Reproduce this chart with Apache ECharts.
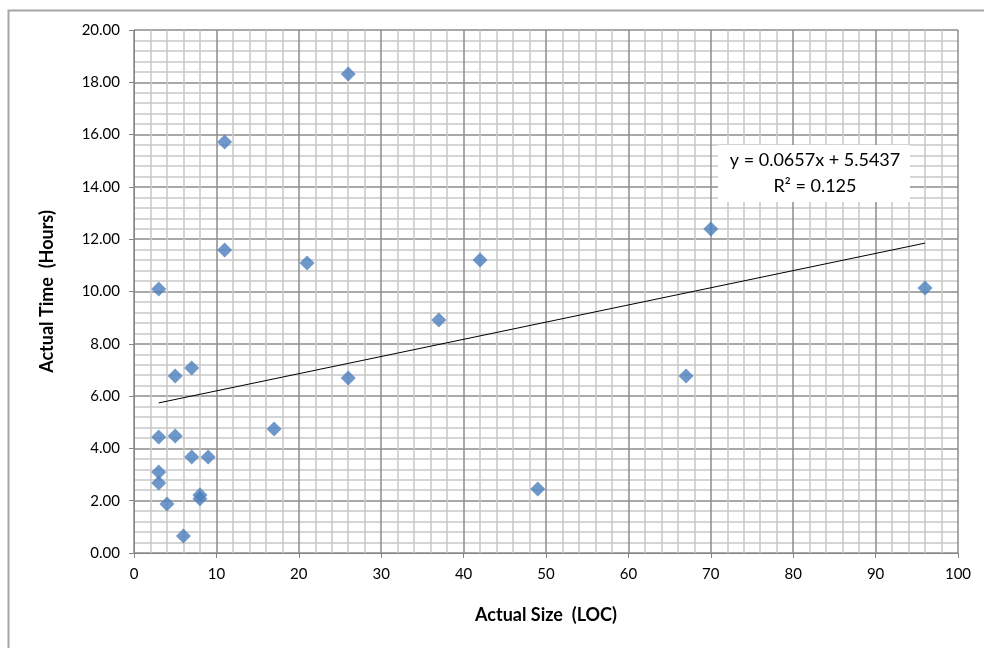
<!DOCTYPE html>
<html>
<head>
<meta charset="utf-8">
<script src="https://cdn.jsdelivr.net/npm/echarts@6/dist/echarts.min.js"></script>
<style>
html,body{margin:0;padding:0;background:#fff;}
#chart{width:984px;height:648px;}
</style>
</head>
<body>
<div id="chart"></div>
<script>
var sizeLOC = [3, 5, 7, 3, 5, 7, 9, 3, 3, 4, 8, 8, 6, 11, 11, 17, 21, 26, 26, 37, 42, 49, 67, 70, 96];
var timeHours = [10.10, 6.77, 7.07, 4.44, 4.47, 3.67, 3.67, 3.10, 2.68, 1.87, 2.22, 2.07, 0.65, 15.72, 11.59, 4.74, 11.09, 18.32, 6.69, 8.91, 11.20, 2.45, 6.77, 12.39, 10.13];
var trendX = [3, 96];
var trendY = [5.74, 11.85];
var equationText = 'y = 0.0657x + 5.5437';
var r2Text = 'R² = 0.125';
var xTitle = 'Actual Size  (LOC)';
var yTitle = 'Actual Time  (Hours)';

var points = sizeLOC.map(function (x, i) { return [x, timeHours[i]]; });
var trend = trendX.map(function (x, i) { return [x, trendY[i]]; });

var FONT = 'Lato, "Open Sans", sans-serif';
var chart = echarts.init(document.getElementById('chart'));
chart.setOption({
  animation: false,
  backgroundColor: '#ffffff',
  grid: { left: 134, right: 26, top: 30, bottom: 95, containLabel: false },
  xAxis: {
    type: 'value', min: 0, max: 100, interval: 10,
    name: xTitle, nameLocation: 'middle', nameGap: 53,
    nameTextStyle: { fontFamily: FONT, fontWeight: 'bold', fontSize: 18, color: '#000' },
    axisLine: { show: true, lineStyle: { color: '#868686', width: 1 } },
    axisTick: { show: true, length: 5, lineStyle: { color: '#868686' } },
    axisLabel: { fontFamily: FONT, fontSize: 15, color: '#000', margin: 14 },
    splitLine: { show: true, lineStyle: { color: '#8c8c8c', width: 1.5 } },
    minorTick: { show: false, splitNumber: 5 },
    minorSplitLine: { show: true, lineStyle: { color: '#c8c8c8', width: 1.5 } }
  },
  yAxis: {
    type: 'value', min: 0, max: 20, interval: 2,
    name: yTitle, nameLocation: 'middle', nameGap: 78, nameRotate: 90,
    nameTextStyle: { fontFamily: FONT, fontWeight: 'bold', fontSize: 18, color: '#000' },
    axisLine: { show: true, lineStyle: { color: '#868686', width: 1 } },
    axisTick: { show: true, length: 5, lineStyle: { color: '#868686' } },
    axisLabel: { fontFamily: FONT, fontSize: 15, color: '#000', margin: 14,
      formatter: function (v) { return v.toFixed(2); } },
    splitLine: { show: true, lineStyle: { color: '#8c8c8c', width: 1.5 } },
    minorTick: { show: false, splitNumber: 5 },
    minorSplitLine: { show: true, lineStyle: { color: '#c8c8c8', width: 1.5 } }
  },
  series: [
    {
      type: 'line', data: trend, symbol: 'none', silent: true,
      lineStyle: { color: '#000', width: 1 }, z: 3
    },
    {
      type: 'scatter', data: points, symbol: 'diamond', symbolSize: 15,
      itemStyle: { color: '#4a7ebb' }, z: 4
    }
  ],
  graphic: [
    { type: 'rect', left: 6, top: 8, shape: { width: 1100, height: 800 },
      style: { fill: 'none', stroke: '#a6a6a6', lineWidth: 2 }, z: 0, silent: true },
    { type: 'rect', left: 718, top: 145, shape: { width: 192, height: 57 },
      style: { fill: '#ffffff', stroke: 'none' }, z: 10 },
    { type: 'text', z: 11,
      style: { text: equationText, x: 815, y: 160, fontFamily: FONT, fontSize: 18, fill: '#000', textAlign: 'center', textVerticalAlign: 'middle' } },
    { type: 'text', z: 11,
      style: { text: r2Text, x: 815, y: 186, fontFamily: FONT, fontSize: 18, fill: '#000', textAlign: 'center', textVerticalAlign: 'middle' } }
  ]
});
</script>
</body>
</html>
